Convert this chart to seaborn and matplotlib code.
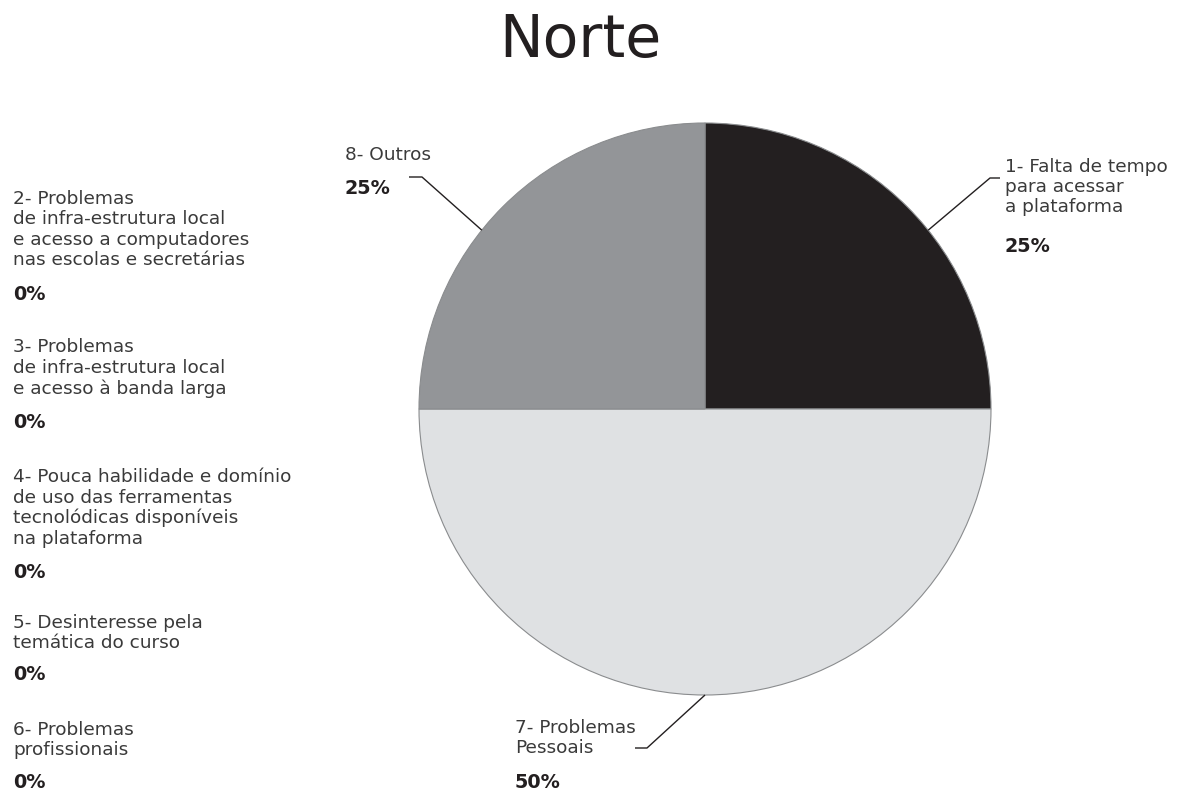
import numpy as np
import matplotlib
matplotlib.use("Agg")
import matplotlib.pyplot as plt
import seaborn as sns

# Motivos de evasão - região Norte
categories = [
    "1- Falta de tempo\npara acessar\na plataforma",
    "2- Problemas\nde infra-estrutura local\ne acesso a computadores\nnas escolas e secretárias",
    "3- Problemas\nde infra-estrutura local\ne acesso à banda larga",
    "4- Pouca habilidade e domínio\nde uso das ferramentas\ntecnolódicas disponíveis\nna plataforma",
    "5- Desinteresse pela\ntemática do curso",
    "6- Problemas\nprofissionais",
    "7- Problemas\nPessoais",
    "8- Outros",
]
values = [25, 0, 0, 0, 0, 0, 50, 25]
slice_colors = ["#231f20", "#ffffff", "#ffffff", "#ffffff", "#ffffff", "#ffffff", "#dfe1e3", "#939598"]
title = "Norte"

sns.set_theme(style="white")
plt.rcParams["font.family"] = ["DejaVu Sans"]

W, H = 1181, 793
fig = plt.figure(figsize=(W / 100, H / 100), dpi=100)
ax = fig.add_axes([0, 0, 1, 1])


def Y(y):
    return H - y


# pie geometry (pixels)
cx, cy, R = 705, 409, 286

idx = [i for i, v in enumerate(values) if v > 0]
wedges, _ = ax.pie(
    [values[i] for i in idx],
    colors=[slice_colors[i] for i in idx],
    startangle=90,
    counterclock=False,
    center=(cx, Y(cy)),
    radius=R,
    wedgeprops=dict(edgecolor="#8a8c8e", linewidth=0.8),
    frame=True,
)
ax.set_xlim(0, W)
ax.set_ylim(0, H)
ax.set_aspect("equal")
ax.axis("off")

label_color = "#3a3a3a"
pct_color = "#231f20"
fs_label = 13.3
fs_pct = 13.8

# label block positions: (x, block centre y, percent y)
layout = {
    0: (1005, 187, 246),
    1: (13, 229.5, 294),
    2: (13, 368, 423),
    3: (13, 508, 573),
    4: (13, 633, 675),
    5: (13, 740, 782),
    6: (515, 738, 783),
    7: (345, 155, 188),
}
for i, cat in enumerate(categories):
    x, yc, yp = layout[i]
    ax.text(x, Y(yc), cat, ha="left", va="center", fontsize=fs_label,
            color=label_color, linespacing=1.17)
    ax.text(x, Y(yp), f"{values[i]}%", ha="left", va="center", fontsize=fs_pct,
            color=pct_color, fontweight="bold")

# leader lines: wedge tip (fraction of the wedge span) -> elbow -> end
leaders = {
    0: (0.43, (990, 178), (1000, 178)),
    6: (0.50, (647, 748), (635, 748)),
    7: (0.57, (422, 177), (409, 177)),
}
for w, i in zip(wedges, idx):
    frac, elbow, end = leaders[i]
    ang = np.deg2rad(w.theta1 + frac * (w.theta2 - w.theta1))
    tip = (cx + R * np.cos(ang), Y(cy) + R * np.sin(ang))
    ax.plot([tip[0], elbow[0], end[0]], [tip[1], Y(elbow[1]), Y(end[1])],
            color="#231f20", linewidth=1.0, solid_capstyle="butt")

ax.text(580, Y(40), title, ha="center", va="center", fontsize=42, color="#231f20")

fig.savefig("out.png", dpi=100)
